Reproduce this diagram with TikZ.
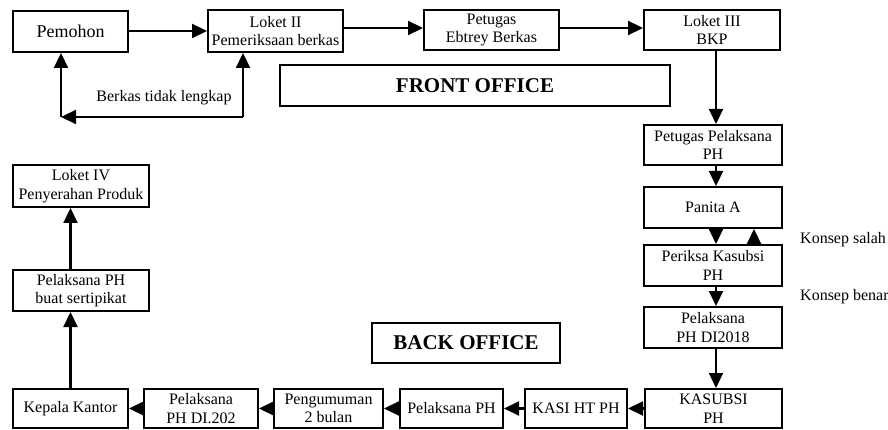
\documentclass[tikz,border=0pt]{standalone}
\usepackage{fontspec}
\setmainfont{Liberation Serif}
\usetikzlibrary{arrows.meta}
\tikzset{
  box/.style={draw, line width=2pt, inner sep=0pt, align=center,
    font=\fontsize{16}{18.5}\selectfont},
  title/.style={box, font=\fontsize{21}{24}\selectfont\bfseries},
  lbl/.style={inner sep=0pt, font=\fontsize{16}{18}\selectfont},
  arr/.style={line width=2.2pt, -{Triangle[length=15pt,width=14pt]}},
}
\begin{document}
\begin{tikzpicture}[x=1pt,y=-1pt]
\useasboundingbox (0,0) rectangle (888,430);
% front office
\node[box, minimum width=115, minimum height=41, font=\fontsize{18}{20}\selectfont] (pem) at (70.5,31.5) {Pemohon};
\node[box, minimum width=135, minimum height=42] (lk2) at (275.5,31) {Loket II\\Pemeriksaan berkas};
\node[box, minimum width=135, minimum height=40] (ebt) at (491.5,30) {Petugas\\Ebtrey Berkas};
\node[box, minimum width=136, minimum height=40] (lk3) at (712,30) {Loket III\\BKP};
\node[title, minimum width=390, minimum height=41] (fo) at (475,85.5) {FRONT OFFICE};
\node[lbl] (bt) at (164,98) {Berkas tidak lengkap};
% right column
\node[box, minimum width=138, minimum height=40] (ppl) at (713,145) {Petugas Pelaksana\\PH};
\node[box, minimum width=138, minimum height=41] (pan) at (713,207.5) {Panita A};
\node[box, minimum width=138, minimum height=41] (pks) at (713,265.5) {Periksa Kasubsi\\PH};
\node[box, minimum width=138, minimum height=41] (d18) at (713,327.5) {Pelaksana\\PH DI2018};
\node[box, minimum width=137, minimum height=39] (ksb) at (713.5,408.5) {KASUBSI\\PH};
\node[lbl, anchor=west] (ks) at (800,240) {Konsep salah};
\node[lbl, anchor=west] (kb) at (800,297) {Konsep benar};
% bottom row
\node[box, minimum width=102, minimum height=39] (kasi) at (576,408.5) {KASI HT PH};
\node[box, minimum width=103, minimum height=39] (pph) at (451.5,408.5) {Pelaksana PH};
\node[box, minimum width=109, minimum height=39] (pgm) at (328.5,408.5) {Pengumuman\\2 bulan};
\node[box, minimum width=114, minimum height=39] (d202) at (201,408.5) {Pelaksana\\PH DI.202};
\node[box, minimum width=115, minimum height=39] (kk) at (70.5,408.5) {Kepala Kantor};
\node[title, minimum width=188, minimum height=40] (bo) at (466,343) {BACK OFFICE};
% left column
\node[box, minimum width=136, minimum height=41] (ps) at (81,290.5) {Pelaksana PH\\buat sertipikat};
\node[box, minimum width=136, minimum height=42] (lk4) at (81,186) {Loket IV\\Penyerahan Produk};
% helper coordinates
\coordinate (colx) at (716,0);
\coordinate (coly) at (754,0);
\coordinate (fbr) at (243,117);
\coordinate (fbl) at (61,117);
% top row arrows
\draw[arr] (pem.east |- 0,31) -- (lk2.west |- 0,31);
\draw[arr] (lk2.east |- 0,28) -- (ebt.west |- 0,28);
\draw[arr] (ebt.east |- 0,28) -- (lk3.west |- 0,28);
% feedback loop
\draw[arr] (fbr) -- (fbr |- lk2.south);
\draw[arr] (fbr) -- (fbl);
\draw[arr] (fbl) -- (fbl |- pem.south);
% right column arrows
\draw[arr] (colx |- lk3.south) -- (colx |- ppl.north);
\draw[arr] (colx |- ppl.south) -- (colx |- pan.north);
\draw[arr] (colx |- pan.south) -- (colx |- pks.north);
\draw[arr] (coly |- pks.north) -- (coly |- pan.south);
\draw[arr] (colx |- pks.south) -- (colx |- d18.north);
\draw[arr] (colx |- d18.south) -- (colx |- ksb.north);
% bottom row arrows
\draw[arr] (ksb.west) -- (kasi.east);
\draw[arr] (kasi.west) -- (pph.east);
\draw[arr] (pph.west) -- (pgm.east);
\draw[arr] (pgm.west) -- (d202.east);
\draw[arr] (d202.west) -- (kk.east);
% left column arrows
\draw[arr] (kk.north) -- (kk.north |- ps.south);
\draw[arr] (kk.north |- ps.north) -- (kk.north |- lk4.south);
\end{tikzpicture}
\end{document}
